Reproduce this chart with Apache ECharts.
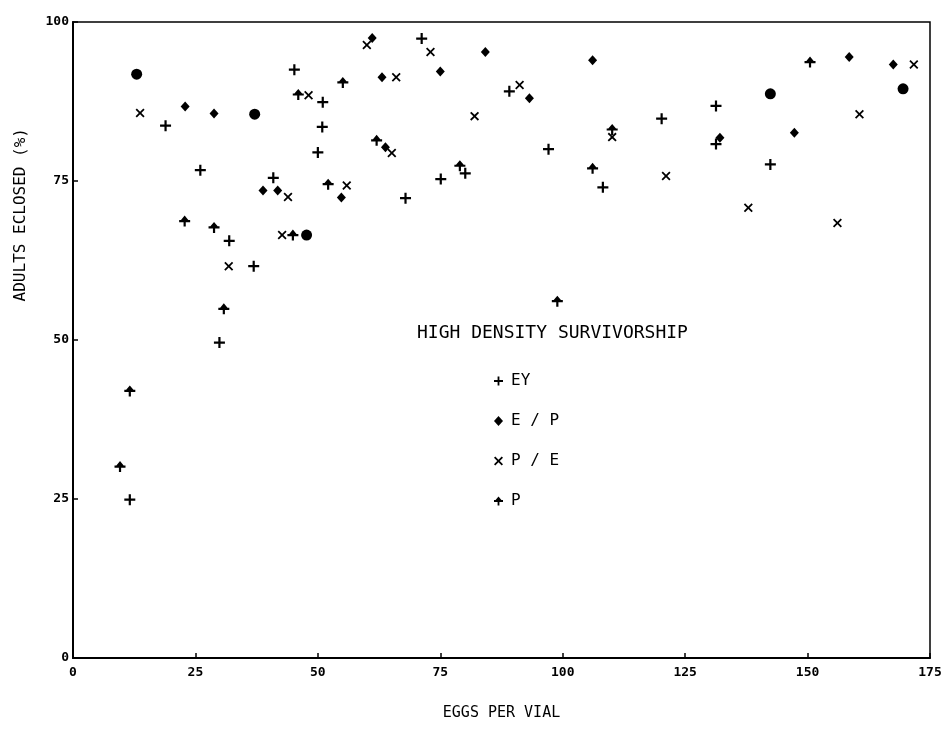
<!DOCTYPE html>
<html>
<head>
<meta charset="utf-8">
<script src="https://cdn.jsdelivr.net/npm/echarts@6/dist/echarts.min.js"></script>
<style>html,body{margin:0;padding:0;background:#fff;}#c{width:949px;height:736px;}</style>
</head>
<body>
<div id="c"></div>
<script>
// ---- data (eggs per vial, adults eclosed %) ----
const xTicks = [0, 25, 50, 75, 100, 125, 150, 175];
const yTicks = [0, 25, 50, 75, 100];

const eyPoints = [
  [18.9,83.7],[26.0,76.7],[40.9,75.5],[45.2,92.5],[51.0,87.4],[50.9,83.5],[50.0,79.5],
  [71.2,97.4],[89.1,89.1],[75.1,75.3],[80.1,76.2],[67.9,72.3],[97.1,80.0],[120.2,84.8],
  [131.3,86.8],[131.3,80.8],[108.2,74.0],[142.4,77.6],[31.9,65.6],[36.9,61.6],[29.9,49.6],
  [11.6,24.9]
];
const epPoints = [
  [22.9,86.7],[28.8,85.6],[38.8,73.5],[41.8,73.5],[61.1,97.5],[63.1,91.3],[75.0,92.2],
  [84.2,95.3],[93.2,88.0],[63.8,80.3],[54.8,72.4],[106.1,94.0],[132.1,81.8],[158.5,94.5],
  [167.5,93.3],[147.3,82.6]
];
// E / P points drawn as larger dots in the original
const epDotPoints = [
  [13.0,91.8],[37.1,85.5],[47.7,66.5],[142.4,88.7],[169.5,89.5]
];
const pePoints = [
  [13.7,85.7],[31.8,61.6],[42.7,66.5],[43.9,72.5],[48.1,88.5],[60.0,96.4],[66.0,91.3],
  [73.0,95.3],[82.0,85.2],[65.1,79.4],[55.9,74.3],[91.2,90.1],[110.1,81.9],[121.1,75.8],
  [137.9,70.8],[171.7,93.3],[160.6,85.5],[156.1,68.4]
];
const pPoints = [
  [46.0,88.6],[55.1,90.5],[62.0,81.4],[79.0,77.4],[52.1,74.5],[110.1,83.1],[106.1,77.0],
  [150.5,93.7],[22.8,68.7],[28.8,67.7],[30.8,54.9],[44.9,66.5],[11.6,42.0],[9.6,30.1],
  [98.9,56.1]
];

const seriesNames = ['EY', 'E / P', 'P / E', 'P'];
const titleText = 'HIGH DENSITY SURVIVORSHIP';
const xName = 'EGGS PER VIAL';
const yName = 'ADULTS ECLOSED (%)';

// ---- symbols ----
const plusPath = 'path://M4,0H6V4H10V6H6V10H4V6H0V4H4Z';
const crossPath = 'path://M1.4,0L5,3.6L8.6,0L10,1.4L6.4,5L10,8.6L8.6,10L5,6.4L1.4,10L0,8.6L3.6,5L0,1.4Z';
const spadePath = 'path://M5,0L8.5,4.2H1.5ZM0,4H10V6H0ZM4,4H6V10H4Z';

const FONT = '"DejaVu Sans Mono", "Liberation Mono", monospace';
const black = '#000';

const chart = echarts.init(document.getElementById('c'), null, {renderer: 'canvas'});
chart.setOption({
  animation: false,
  backgroundColor: '#fff',
  grid: {left: 73, right: 19, top: 22, bottom: 78, show: true, borderColor: black, borderWidth: 1.5, containLabel: false},
  title: {
    text: titleText, left: 412, top: 319,
    textStyle: {fontFamily: FONT, fontSize: 18, fontWeight: 'normal', color: black}
  },
  legend: {
    orient: 'vertical', left: 489, top: 368, itemGap: 24, itemWidth: 9, itemHeight: 10,
    textStyle: {fontFamily: FONT, fontSize: 16, color: black, padding: [0,0,0,3]},
    data: seriesNames.map(n => ({name: n}))
  },
  xAxis: {
    type: 'value', min: 0, max: 175, interval: 25,
    name: xName, nameLocation: 'middle', nameGap: 48,
    nameTextStyle: {fontFamily: FONT, fontSize: 15, color: black},
    axisLine: {show: true, onZero: false, lineStyle: {color: black, width: 2}},
    axisTick: {show: true, inside: true, length: 5, lineStyle: {color: black, width: 1.5}},
    axisLabel: {fontFamily: FONT, fontSize: 13, fontWeight: 'bold', color: black, margin: 8,
      formatter: v => xTicks.includes(v) ? String(v) : ''},
    splitLine: {show: false}
  },
  yAxis: {
    type: 'value', min: 0, max: 100, interval: 25,
    axisLine: {show: true, onZero: false, lineStyle: {color: black, width: 2}},
    axisTick: {show: true, inside: true, length: 5, lineStyle: {color: black, width: 1.5}},
    axisLabel: {fontFamily: FONT, fontSize: 13, fontWeight: 'bold', color: black, margin: 4, verticalAlign: 'middle',
      formatter: v => yTicks.includes(v) ? String(v) : ''},
    splitLine: {show: false}
  },
  graphic: [{
    type: 'text', left: 13, top: 128, rotation: Math.PI / 2,
    style: {text: yName, fontFamily: FONT, fontSize: 16, fill: black}
  }],
  series: [
    {name: seriesNames[0], type: 'scatter', symbol: plusPath, symbolSize: 11,
      itemStyle: {color: black, opacity: 1}, data: eyPoints},
    {name: seriesNames[1], type: 'scatter', symbol: 'diamond', symbolSize: [9, 10],
      itemStyle: {color: black, opacity: 1},
      data: epPoints.map(p => ({value: p})).concat(epDotPoints.map(p => ({value: p, symbol: 'circle', symbolSize: 11})))},
    {name: seriesNames[2], type: 'scatter', symbol: crossPath, symbolSize: 9,
      itemStyle: {color: black, opacity: 1}, data: pePoints},
    {name: seriesNames[3], type: 'scatter', symbol: spadePath, symbolSize: 11,
      itemStyle: {color: black, opacity: 1}, data: pPoints}
  ]
});
</script>
</body>
</html>
